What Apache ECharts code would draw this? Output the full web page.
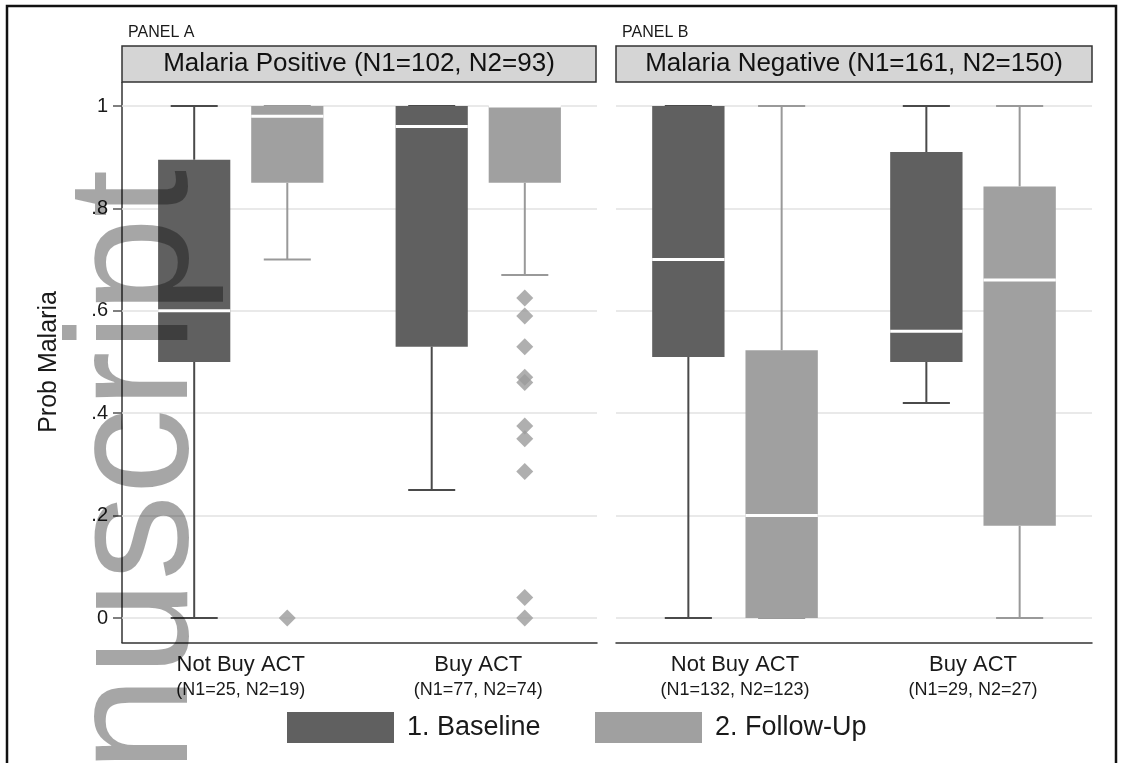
<!DOCTYPE html>
<html>
<head>
<meta charset="utf-8">
<title>Prob Malaria by ACT purchase</title>
<script src="https://cdn.jsdelivr.net/npm/echarts@6/dist/echarts.min.js"></script>
<style>
  html, body { margin: 0; padding: 0; background: #fff; }
  #chart { width: 1122px; height: 763px; }
</style>
</head>
<body>
<div id="chart"></div>
<script>
// categories, sample sizes, y ticks
const groups = ['Not Buy ACT', 'Buy ACT']
const sizesA = ['(N1=25, N2=19)', '(N1=77, N2=74)']
const sizesB = ['(N1=132, N2=123)', '(N1=29, N2=27)']
const yTicks = [0, 0.2, 0.4, 0.6, 0.8, 1]
const yTickLabels = ['0', '.2', '.4', '.6', '.8', '1']

// box stats [min, q1, median, q3, max], one row per group
const baselineA = [[0, 0.5, 0.6, 0.895, 1], [0.25, 0.53, 0.96, 1, 1]]
const followUpA = [[0.7, 0.85, 0.98, 1, 1], [0.67, 0.85, 1, 1, 1]]
const baselineB = [[0, 0.51, 0.7, 1, 1], [0.42, 0.5, 0.56, 0.91, 1]]
const followUpB = [[0, 0, 0.2, 0.523, 1], [0, 0.18, 0.66, 0.843, 1]]

// outside values [group index, value]
const outliersFollowUpA = [
  [0, 0],
  [1, 0.625], [1, 0.59], [1, 0.53], [1, 0.47], [1, 0.46],
  [1, 0.375], [1, 0.35], [1, 0.286], [1, 0.04], [1, 0]
]

const FONT = '"Liberation Sans", Arial, sans-serif'
const DARK = '#606060'
const LIGHT = '#a0a0a0'

function boxItem(side, fill, whisker) {
  return function (params, api) {
    const idx = api.value(0)
    const band = api.size([1, 0])[0]
    const cx = api.coord([idx, 0])[0] + side * band * 0.196
    const half = band * 0.152
    const cap = band * 0.099
    const y = d => api.coord([idx, api.value(d)])[1]
    const lo = y(1), q1 = y(2), med = y(3), q3 = y(4), hi = y(5)
    const ws = { stroke: whisker, lineWidth: 2 }
    return {
      type: 'group',
      children: [
        { type: 'line', shape: { x1: cx, y1: q1, x2: cx, y2: lo }, style: ws },
        { type: 'line', shape: { x1: cx - cap, y1: lo, x2: cx + cap, y2: lo }, style: ws },
        { type: 'line', shape: { x1: cx, y1: q3, x2: cx, y2: hi }, style: ws },
        { type: 'line', shape: { x1: cx - cap, y1: hi, x2: cx + cap, y2: hi }, style: ws },
        { type: 'rect', shape: { x: cx - half, y: q3, width: half * 2, height: q1 - q3 }, style: { fill: fill } },
        { type: 'line', shape: { x1: cx - half, y1: med, x2: cx + half, y2: med }, style: { stroke: '#fff', lineWidth: 3 } }
      ]
    }
  }
}

function boxSeries(name, stats, grid, side, fill, whisker) {
  return {
    name: name,
    type: 'custom',
    xAxisIndex: grid,
    yAxisIndex: grid,
    itemStyle: { color: fill },
    encode: { x: 0, y: [1, 2, 3, 4, 5] },
    data: stats.map((d, i) => [i].concat(d)),
    renderItem: boxItem(side, fill, whisker)
  }
}

function xAxis(grid, sizes) {
  return {
    type: 'category',
    gridIndex: grid,
    data: groups.map((g, i) => g + '\n' + sizes[i]),
    offset: 25,
    axisLine: { onZero: false, lineStyle: { color: '#333', width: 1.5 } },
    axisTick: { show: false },
    axisLabel: {
      margin: 8,
      formatter: v => {
        const parts = v.split('\n')
        return '{a|' + parts[0] + '}\n{b|' + parts[1] + '}'
      },
      rich: {
        a: { fontSize: 22, color: '#1a1a1a', lineHeight: 27, fontFamily: FONT },
        b: { fontSize: 18, color: '#1a1a1a', lineHeight: 25, fontFamily: FONT }
      }
    }
  }
}

function yAxis(grid, labels) {
  return {
    type: 'value',
    gridIndex: grid,
    min: 0,
    max: 1,
    interval: 0.2,
    axisLine: { show: false },
    axisTick: { show: labels, length: 9, lineStyle: { color: '#555', width: 1.5 } },
    axisLabel: {
      show: labels,
      margin: 14,
      fontSize: 20,
      color: '#1a1a1a',
      formatter: v => yTickLabels[yTicks.indexOf(Math.round(v * 10) / 10)]
    },
    splitLine: { lineStyle: { color: '#e2e2e2', width: 1.5 } },
    name: labels ? 'Prob Malaria' : '',
    nameLocation: 'middle',
    nameGap: 60,
    nameTextStyle: { fontSize: 25, color: '#1a1a1a', fontFamily: FONT }
  }
}

function header(x, w, panel, text) {
  return [
    { type: 'text', left: x + 6, top: 25, style: { text: panel, fontSize: 16, fill: '#1a1a1a', fontFamily: FONT } },
    { type: 'rect', shape: { x: x, y: 46, width: w, height: 36 }, style: { fill: '#d5d5d5', stroke: '#333', lineWidth: 1.5 } },
    { type: 'text', x: x + w / 2, y: 64, style: { text: text, fontSize: 26, fill: '#111', fontFamily: FONT, align: 'center', verticalAlign: 'middle' } }
  ]
}

const legendBase = {
  icon: 'rect',
  itemWidth: 107,
  itemHeight: 31,
  top: 707,
  selectedMode: false,
  textStyle: { fontSize: 27, color: '#1a1a1a', fontFamily: FONT, padding: [0, 0, 0, 8] }
}

const chart = echarts.init(document.getElementById('chart'))
chart.setOption({
  animation: false,
  textStyle: { fontFamily: FONT },
  grid: [
    { left: 122, top: 106, width: 475, height: 512 },
    { left: 616, top: 106, width: 476, height: 512 }
  ],
  xAxis: [xAxis(0, sizesA), xAxis(1, sizesB)],
  yAxis: [yAxis(0, true), yAxis(1, false)],
  legend: [
    Object.assign({}, legendBase, { left: 282, data: ['1. Baseline'] }),
    Object.assign({}, legendBase, { left: 590, data: ['2. Follow-Up'] })
  ],
  graphic: [
    { type: 'rect', shape: { x: 7, y: 6, width: 1109, height: 800 }, style: { fill: 'none', stroke: '#111', lineWidth: 2.5 } },
    { type: 'line', shape: { x1: 122, y1: 82, x2: 122, y2: 643 }, style: { stroke: '#333', lineWidth: 1.5 } }
  ].concat(
    header(122, 474, 'PANEL A', 'Malaria Positive (N1=102, N2=93)'),
    header(616, 476, 'PANEL B', 'Malaria Negative (N1=161, N2=150)'),
    [{
      type: 'text', x: 140, y: 772, rotation: Math.PI / 2, z: 100,
      style: { text: 'nuscript', fontSize: 172, fill: 'rgba(0,0,0,0.35)', fontFamily: FONT, align: 'left', verticalAlign: 'middle' }
    }]
  ),
  series: [
    boxSeries('1. Baseline', baselineA, 0, -1, DARK, '#4a4a4a'),
    boxSeries('2. Follow-Up', followUpA, 0, 1, LIGHT, '#999'),
    boxSeries('1. Baseline', baselineB, 1, -1, DARK, '#4a4a4a'),
    boxSeries('2. Follow-Up', followUpB, 1, 1, LIGHT, '#999'),
    {
      name: 'Outside values',
      type: 'scatter',
      xAxisIndex: 0,
      yAxisIndex: 0,
      symbol: 'diamond',
      symbolSize: 17,
      symbolOffset: [46.5, 0],
      clip: false,
      itemStyle: { color: '#9b9b9b' },
      data: outliersFollowUpA
    }
  ]
})
</script>
</body>
</html>
